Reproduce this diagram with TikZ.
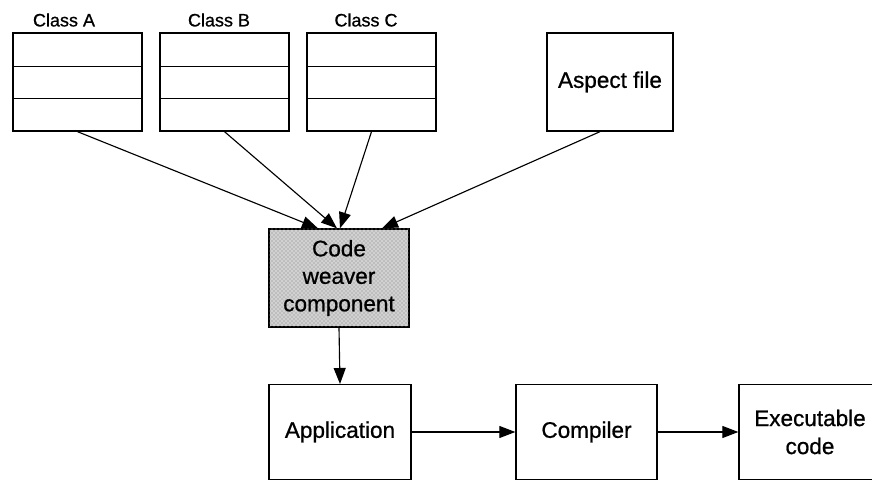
\documentclass[tikz,border=0pt]{standalone}
\usepackage{fontspec}
\setmainfont{Liberation Sans}[UprightFeatures={FakeBold=0.8}]
\usetikzlibrary{arrows.meta,calc,patterns}
\begin{document}
\begin{tikzpicture}[x=0.75pt,y=-0.75pt,
  box/.style={draw, line width=1pt, inner sep=0pt, align=center,
    font=\fontsize{16.9pt}{20.6pt}\selectfont},
  classbox/.style={box, minimum width=96.75pt, minimum height=73.5pt},
  lbl/.style={inner sep=0pt, font=\fontsize{13.5pt}{16pt}\selectfont},
  conn/.style={line width=0.85pt, -{Triangle[length=12pt,width=9pt]}}]
\useasboundingbox (0,0) rectangle (872,481);

% three classes, each with three compartments
\node[classbox] (A) at (77.5,82) {};
\node[classbox] (B) at (224.5,82) {};
\node[classbox] (C) at (371.5,82) {};
\foreach \n in {A,B,C}{
  \draw[line width=0.85pt] ($(\n.north west)+(0,34)$) -- ($(\n.north east)+(0,34)$);
  \draw[line width=0.85pt] ($(\n.north west)+(0,66)$) -- ($(\n.north east)+(0,66)$);
}
\node[lbl] (la) at (64,20) {Class A};
\node[lbl] (lb) at (219,20) {Class B};
\node[lbl] (lc) at (366,20) {Class C};

\node[box, minimum width=94.5pt, minimum height=73.5pt] (asp) at (610,82) {Aspect file};

% weaver, with a stippled grey fill
\node[box, minimum width=105pt, minimum height=73.5pt,
      fill=black!18, postaction={pattern=crosshatch dots, pattern color=black!50}]
      (w) at (339,278) {Code\\weaver\\component};

\node[box, minimum width=106.5pt, minimum height=71pt] (app) at (340,432) {Application};
\node[box, minimum width=105.75pt, minimum height=71pt] (comp) at (586.5,432) {Compiler};
\node[box, minimum width=106.5pt, minimum height=71pt, font=\fontsize{16.9pt}{21pt}\selectfont]
      (exe) at (810,432) {Executable\\code};

\draw[conn] (A.south) -- ($(w.north)+(-21,0)$);
\draw[conn] (B.south) -- ($(w.north)+(-2,0)$);
\draw[conn] (C.south) -- ($(w.north)+(1,0)$);
\draw[conn] ($(asp.south)+(-10,0)$) -- ($(w.north)+(43,0)$);
\draw[conn] (w.south) -- (app.north);
\draw[conn] (app.east) -- (comp.west);
\draw[conn] (comp.east) -- (exe.west);
\end{tikzpicture}
\end{document}
